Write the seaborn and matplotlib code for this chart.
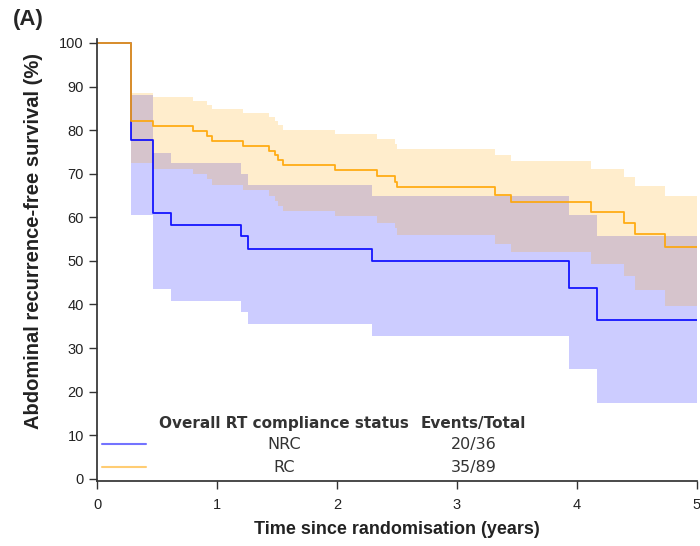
import matplotlib
matplotlib.use("Agg")
import matplotlib.pyplot as plt
import pandas as pd
import seaborn as sns

sns.set_theme(style="ticks")
plt.rcParams["font.family"] = ["Liberation Sans", "DejaVu Sans"]

# Kaplan-Meier estimates (%) with 95% CI
nrc_time = [0, 0.28, 0.47, 0.62, 1.20, 1.26, 2.29, 3.93, 4.17, 5]
nrc_surv = [100, 77.8, 61.1, 58.3, 55.6, 52.8, 50.0, 43.8, 36.5, 36.5]
nrc_upper = [100, 88.1, 74.8, 72.4, 70.0, 67.4, 64.8, 60.6, 55.7, 55.7]
nrc_lower = [100, 60.5, 43.5, 40.8, 38.2, 35.6, 32.8, 25.3, 17.5, 17.5]

rc_time = [0, 0.28, 0.47, 0.80, 0.92, 0.96, 1.22, 1.43, 1.48, 1.51, 1.55,
           1.98, 2.33, 2.48, 2.50, 3.32, 3.45, 4.12, 4.39, 4.48, 4.73, 5]
rc_surv = [100, 82.0, 81.0, 79.8, 78.7, 77.6, 76.4, 75.3, 74.2, 73.1, 71.9,
           70.8, 69.5, 68.2, 66.9, 65.1, 63.5, 61.2, 58.8, 56.1, 53.2, 53.2]
rc_upper = [100, 88.5, 87.7, 86.7, 85.8, 84.9, 83.9, 83.0, 82.0, 81.1, 80.0,
            79.0, 77.9, 76.8, 75.6, 74.3, 72.9, 71.1, 69.3, 67.2, 64.9, 64.9]
rc_lower = [100, 72.4, 71.1, 70.0, 68.7, 67.4, 66.2, 65.0, 63.8, 62.6, 61.4,
            60.2, 58.8, 57.5, 56.0, 53.9, 52.0, 49.3, 46.5, 43.3, 39.7, 39.7]

groups = ["NRC", "RC"]
events = ["20/36", "35/89"]
colors = {"NRC": "#0000FF", "RC": "#FFA500"}

df = pd.concat([
    pd.DataFrame({"time": nrc_time, "surv": nrc_surv, "lo": nrc_lower, "hi": nrc_upper, "group": "NRC"}),
    pd.DataFrame({"time": rc_time, "surv": rc_surv, "lo": rc_lower, "hi": rc_upper, "group": "RC"}),
])

fig = plt.figure(figsize=(7, 5.46), dpi=100)
ax = fig.add_axes([97 / 700, 1 - 481 / 546, 600 / 700, 442.4 / 546])

for g in groups:
    d = df[df["group"] == g]
    ax.fill_between(d["time"], d["lo"], d["hi"], step="post",
                    color=colors[g], alpha=0.2, linewidth=0)

sns.lineplot(data=df, x="time", y="surv", hue="group", palette=colors,
             estimator=None, sort=False, drawstyle="steps-post",
             linewidth=1.3, alpha=0.9, legend=False, ax=ax)

ax.set_xlim(0, 5)
ax.set_ylim(-0.5, 101)
ax.set_xticks(range(0, 6))
ax.set_yticks(range(0, 101, 10))
ax.tick_params(labelsize=10.5, length=6, width=1, colors="#333333", labelcolor="#222222")
ax.tick_params(axis="x", pad=6)
for s in ["left", "bottom"]:
    ax.spines[s].set_color("#333333")
sns.despine(ax=ax)

ax.set_xlabel("Time since randomisation (years)", fontsize=13, fontweight="bold", color="#222222")
ax.set_ylabel("Abdominal recurrence-free survival (%)", fontsize=14.5, fontweight="bold", color="#222222")
ax.xaxis.set_label_coords(0.5, -0.09)
ax.yaxis.set_label_coords(-0.09, 0.543)

# table-like legend
lfont = ["DejaVu Sans"]
ax.text(0.312, 0.131, "Overall RT compliance status", transform=ax.transAxes, ha="center", va="center",
        fontsize=11, fontweight="bold", color="#333333", family=lfont)
ax.text(0.628, 0.131, "Events/Total", transform=ax.transAxes, ha="center", va="center",
        fontsize=11, fontweight="bold", color="#333333", family=lfont)
for i, (g, ev) in enumerate(zip(groups, events)):
    y = 0.0836 - i * 0.052
    ax.plot([0.0083, 0.0817], [y, y], transform=ax.transAxes, color=colors[g], alpha=0.55, lw=1.5)
    ax.text(0.312, y, g, transform=ax.transAxes, ha="center", va="center",
            fontsize=11.5, color="#333333", family=lfont)
    ax.text(0.628, y, ev, transform=ax.transAxes, ha="center", va="center",
            fontsize=11.5, color="#333333", family=lfont)

fig.text(13 / 700, 1 - 19 / 546, "(A)", fontsize=16, fontweight="bold", va="center", ha="left")

fig.savefig("out.png", dpi=100)
